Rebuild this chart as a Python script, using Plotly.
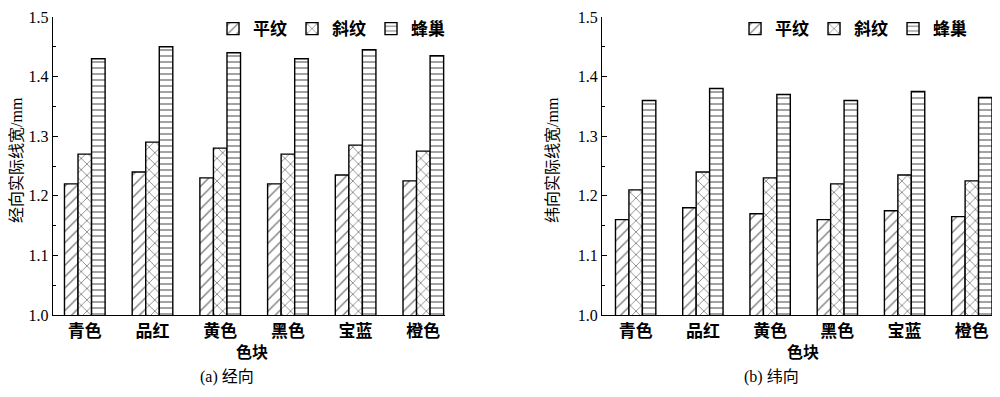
import plotly.graph_objects as go

categories = ["青色", "品红", "黄色", "黑色", "宝蓝", "橙色"]
series_names = ["平纹", "斜纹", "蜂巢"]

warp_plain = [1.22, 1.24, 1.23, 1.22, 1.235, 1.225]
warp_twill = [1.27, 1.29, 1.28, 1.27, 1.285, 1.275]
warp_honey = [1.43, 1.45, 1.44, 1.43, 1.445, 1.435]

weft_plain = [1.16, 1.18, 1.17, 1.16, 1.175, 1.165]
weft_twill = [1.21, 1.24, 1.23, 1.22, 1.235, 1.225]
weft_honey = [1.36, 1.38, 1.37, 1.36, 1.375, 1.365]

y_ticks = [1.0, 1.1, 1.2, 1.3, 1.4, 1.5]

FONT = "Liberation Serif, Noto Sans CJK SC, serif"
patterns = [dict(shape="/", size=8, solidity=0.18),
            dict(shape="x", size=8, solidity=0.2),
            dict(shape="-", size=6, solidity=0.24)]

fig = go.Figure()

panels = [
    ([warp_plain, warp_twill, warp_honey], "x", "y", "legend"),
    ([weft_plain, weft_twill, weft_honey], "x2", "y2", "legend2"),
]
for vals, xa, ya, lg in panels:
    for name, v, pat in zip(series_names, vals, patterns):
        fig.add_trace(go.Bar(
            x=categories, y=v, name="<b>" + name + "</b>", xaxis=xa, yaxis=ya, legend=lg,
            marker=dict(color="white",
                        line=dict(color="black", width=1.4),
                        pattern=dict(fgcolor="black", bgcolor="white", **pat)),
        ))

axis_common = dict(showline=True, linecolor="black", linewidth=1.4,
                   showgrid=False, zeroline=False)
yaxis_common = dict(axis_common, range=[1.0, 1.5], tickvals=y_ticks,
                    tickformat=".1f", ticks="inside", ticklen=5,
                    tickcolor="black", tickwidth=1.3, ticklabeloverflow="allow",
                    minor=dict(dtick=0.05, ticks="inside", ticklen=3,
                               tickcolor="black", tickwidth=1.3),
                    tickfont=dict(family=FONT, size=16, color="black"))
xaxis_common = dict(axis_common, ticks="", type="category", ticklabeloverflow="allow",
                    tickvals=categories, ticktext=["<b>" + c + "</b>" for c in categories],
                    tickfont=dict(family=FONT, size=17, color="black"))

fig.update_layout(
    width=984, height=381,
    margin=dict(l=0, r=0, t=9, b=74, autoexpand=False),
    paper_bgcolor="white", plot_bgcolor="white",
    barmode="group", bargap=0.4, bargroupgap=0,
    xaxis=dict(xaxis_common, domain=[0.0457, 0.4441], range=[-0.47, 5.32], anchor="y"),
    yaxis=dict(yaxis_common, anchor="x"),
    xaxis2=dict(xaxis_common, domain=[0.6037, 1.0], range=[-0.5, 5.3], anchor="y2"),
    yaxis2=dict(yaxis_common, anchor="x2"),
    legend=dict(orientation="h", x=0.4492, xanchor="right", y=1.02, yanchor="top",
                font=dict(family=FONT, size=17, color="black"),
                bgcolor="rgba(0,0,0,0)", itemwidth=30),
    legend2=dict(orientation="h", x=0.9797, xanchor="right", y=1.02, yanchor="top",
                 font=dict(family=FONT, size=17, color="black"),
                 bgcolor="rgba(0,0,0,0)", itemwidth=30),
    font=dict(family=FONT, color="black"),
)

annots = [
    dict(text="<b>色块</b>", x=0.248, y=-0.124),
    dict(text="<b>色块</b>", x=0.808, y=-0.124),
    dict(text="(a) 经向", x=0.2226, y=-0.208),
    dict(text="(b) 纬向", x=0.7764, y=-0.208),
]
for a in annots:
    fig.add_annotation(text=a["text"], x=a["x"], y=a["y"], xref="paper", yref="paper",
                       showarrow=False, xanchor="center", yanchor="middle",
                       font=dict(family=FONT, size=16, color="black"))
for txt, xx in [("经向实际线宽/mm", 0.0081), ("纬向实际线宽/mm", 0.5528)]:
    fig.add_annotation(text=txt, x=xx, y=0.52, xref="paper", yref="paper",
                       showarrow=False, textangle=-90, xanchor="center", yanchor="middle",
                       font=dict(family=FONT, size=16, color="black"))

fig.write_html("out.html")
